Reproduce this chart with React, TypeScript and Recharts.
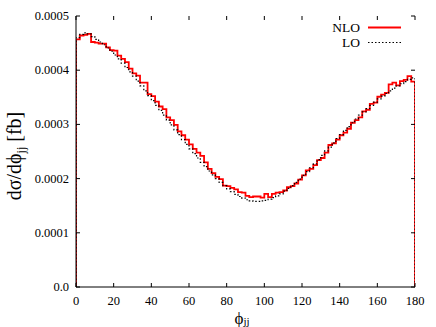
import React from "react";
import { LineChart, Line, XAxis, YAxis } from "recharts";

// Bin lower edges (degrees), 2-degree bins from 0 to 180
const binEdges: number[] = Array.from({ length: 90 }, (_, i) => i * 2);

// NLO histogram values, units of 1e-4 fb
const nloE4: number[] = [
  4.57, 4.64, 4.65, 4.67, 4.52, 4.51, 4.49, 4.49, 4.42, 4.37,
  4.36, 4.27, 4.21, 4.15, 4.03, 3.94, 3.9, 3.77, 3.77, 3.56,
  3.52, 3.42, 3.33, 3.28, 3.13, 3.08, 2.99, 2.87, 2.8, 2.72,
  2.63, 2.55, 2.48, 2.42, 2.3, 2.18, 2.1, 2.03, 1.99, 1.87,
  1.86, 1.83, 1.8, 1.75, 1.74, 1.68, 1.66, 1.67, 1.67, 1.65,
  1.72, 1.66, 1.72, 1.74, 1.75, 1.78, 1.84, 1.86, 1.91, 1.98,
  2.06, 2.15, 2.18, 2.25, 2.34, 2.38, 2.48, 2.62, 2.65, 2.72,
  2.8, 2.85, 2.92, 3.03, 3.08, 3.13, 3.24, 3.27, 3.38, 3.4,
  3.51, 3.55, 3.58, 3.74, 3.77, 3.72, 3.8, 3.82, 3.89, 3.79,
];

// LO histogram values, units of 1e-4 fb
const loE4: number[] = [
  4.6, 4.66, 4.69, 4.67, 4.62, 4.57, 4.52, 4.47, 4.41, 4.35,
  4.28, 4.21, 4.13, 4.05, 3.97, 3.89, 3.8, 3.71, 3.62, 3.53,
  3.44, 3.35, 3.26, 3.17, 3.08, 2.99, 2.9, 2.81, 2.72, 2.63,
  2.55, 2.46, 2.38, 2.3, 2.22, 2.14, 2.07, 2.0, 1.93, 1.87,
  1.81, 1.76, 1.71, 1.67, 1.64, 1.61, 1.59, 1.58, 1.58, 1.59,
  1.6, 1.62, 1.65, 1.68, 1.72, 1.77, 1.82, 1.87, 1.93, 1.99,
  2.06, 2.13, 2.2, 2.27, 2.35, 2.43, 2.51, 2.58, 2.66, 2.74,
  2.81, 2.89, 2.96, 3.03, 3.1, 3.17, 3.23, 3.29, 3.35, 3.41,
  3.47, 3.52, 3.57, 3.62, 3.67, 3.71, 3.75, 3.79, 3.83, 3.86,
];

const xTicks: number[] = [0, 20, 40, 60, 80, 100, 120, 140, 160, 180];
const yTicks: number[] = [0, 0.0001, 0.0002, 0.0003, 0.0004, 0.0005];
const seriesNames: string[] = ["NLO", "LO"];

const W = 436;
const H = 327;
const PLOT = { left: 76, right: 415, top: 16, bottom: 287 };
const FONT = "'Liberation Serif', 'DejaVu Serif', serif";

// Build step-histogram data (closed at both ends to zero)
const data: { x: number; nlo: number; lo: number }[] = [];
data.push({ x: 0, nlo: 0, lo: 0 });
binEdges.forEach((e, i) => {
  data.push({ x: e, nlo: nloE4[i] * 1e-4, lo: loE4[i] * 1e-4 });
});
const last = binEdges.length - 1;
data.push({ x: 180, nlo: nloE4[last] * 1e-4, lo: loE4[last] * 1e-4 });
data.push({ x: 180, nlo: 0, lo: 0 });

const XTick = (props: any) => {
  const { x, payload } = props;
  return (
    <g>
      <line x1={x} x2={x} y1={PLOT.bottom} y2={PLOT.bottom - 4} stroke="#000" />
      <line x1={x} x2={x} y1={PLOT.top} y2={PLOT.top + 4} stroke="#000" />
      <text x={x} y={305} textAnchor="middle" fontFamily={FONT} fontSize={12.5} fill="#000">
        {payload.value}
      </text>
    </g>
  );
};

const YTick = (props: any) => {
  const { y, payload } = props;
  const v: number = payload.value;
  const label = v === 0 ? "0.0" : v.toFixed(4);
  return (
    <g>
      <line x1={PLOT.left} x2={PLOT.left + 4} y1={y} y2={y} stroke="#000" />
      <line x1={PLOT.right} x2={PLOT.right - 4} y1={y} y2={y} stroke="#000" />
      <text x={69} y={y + 4} textAnchor="end" fontFamily={FONT} fontSize={12.5} fill="#000">
        {label}
      </text>
    </g>
  );
};

export default function App() {
  return (
    <div style={{ position: "absolute", left: 0, top: 0, width: W, height: H, background: "#fff", overflow: "hidden" }}>
      <LineChart
        width={W}
        height={H}
        data={data}
        margin={{ top: PLOT.top, right: W - PLOT.right, bottom: 0, left: 0 }}
      >
        <XAxis
          dataKey="x"
          type="number"
          domain={[0, 180]}
          ticks={xTicks}
          interval={0}
          height={H - PLOT.bottom}
          tickLine={false}
          axisLine={{ stroke: "#000" }}
          tick={<XTick />}
          allowDataOverflow
        />
        <XAxis
          xAxisId="top"
          orientation="top"
          dataKey="x"
          type="number"
          domain={[0, 180]}
          height={0}
          tick={false}
          tickLine={false}
          axisLine={{ stroke: "#000" }}
        />
        <YAxis
          type="number"
          domain={[0, 0.0005]}
          ticks={yTicks}
          interval={0}
          width={PLOT.left}
          tickLine={false}
          axisLine={{ stroke: "#000" }}
          tick={<YTick />}
          allowDataOverflow
        />
        <YAxis
          yAxisId="right"
          orientation="right"
          type="number"
          domain={[0, 0.0005]}
          width={0}
          tick={false}
          tickLine={false}
          axisLine={{ stroke: "#000" }}
        />
        <Line
          dataKey="nlo"
          name={seriesNames[0]}
          type="stepAfter"
          stroke="#ff0000"
          strokeWidth={1.8}
          dot={false}
          activeDot={false}
          isAnimationActive={false}
        />
        <Line
          dataKey="lo"
          name={seriesNames[1]}
          type="stepAfter"
          stroke="#000"
          strokeWidth={1.2}
          strokeDasharray="1.5 2"
          dot={false}
          activeDot={false}
          isAnimationActive={false}
        />
      </LineChart>
      <svg width={W} height={H} style={{ position: "absolute", left: 0, top: 0, pointerEvents: "none" }}>
        <text x={360} y={32} textAnchor="end" fontFamily={FONT} fontSize={13.5} fill="#000">{seriesNames[0]}</text>
        <line x1={368} x2={401} y1={27.5} y2={27.5} stroke="#ff0000" strokeWidth={1.8} />
        <text x={360} y={47} textAnchor="end" fontFamily={FONT} fontSize={13.5} fill="#000">{seriesNames[1]}</text>
        <line x1={368} x2={401} y1={42.5} y2={42.5} stroke="#000" strokeWidth={1.2} strokeDasharray="1.5 2" />
        <text
          transform="translate(21,156) rotate(-90)"
          textAnchor="middle"
          fontFamily={FONT}
          fontSize={20}
          fill="#000"
        >
          dσ/dϕ<tspan fontSize={12} dy={4}>jj</tspan><tspan dy={-4}> [fb]</tspan>
        </text>
        <text x={242} y={324} textAnchor="middle" fontFamily={FONT} fontSize={17} fill="#000">
          ϕ<tspan fontSize={11} dy={1}>jj</tspan>
        </text>
      </svg>
    </div>
  );
}
